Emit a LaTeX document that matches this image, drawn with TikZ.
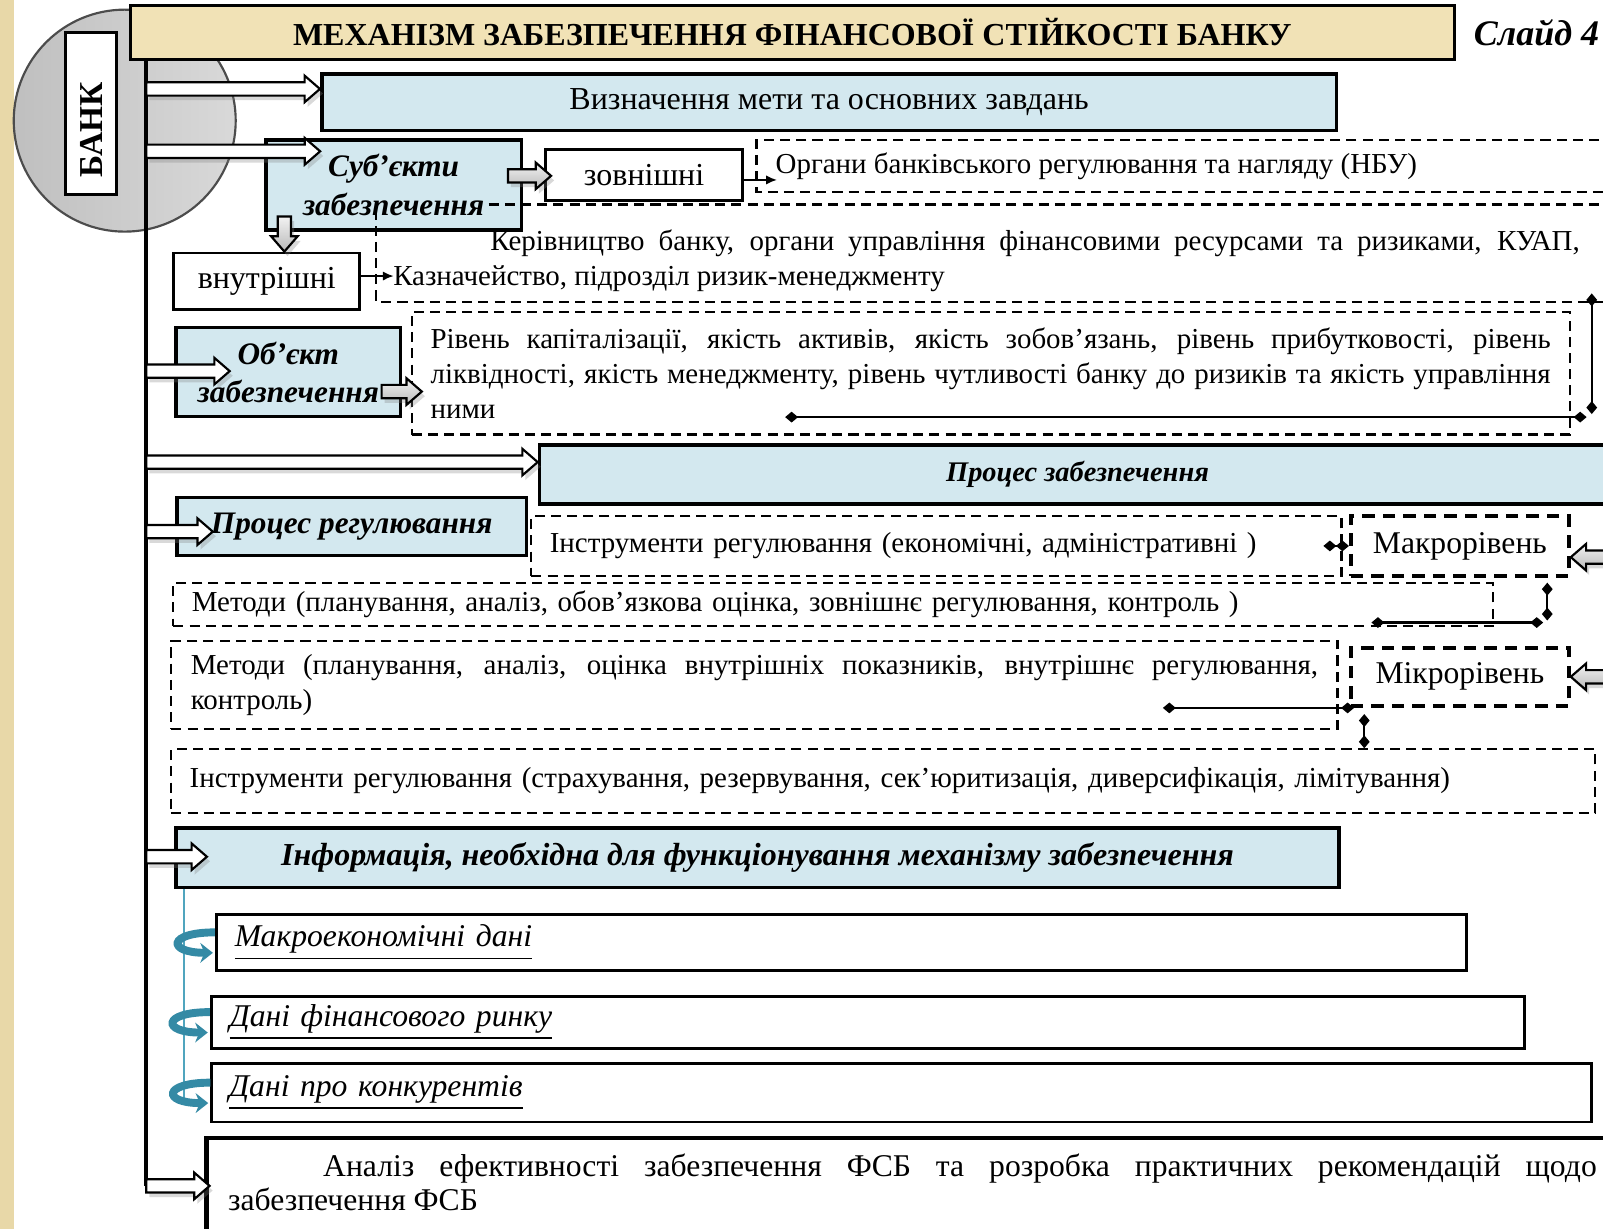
\documentclass[tikz,border=0pt]{standalone}
\usepackage{fontspec}
\setmainfont{Liberation Serif}
\usetikzlibrary{arrows.meta,calc,positioning,shadows}
\definecolor{boxblue}{RGB}{211,232,239}
\definecolor{titlebeige}{RGB}{241,226,182}
\definecolor{stripbeige}{RGB}{232,216,168}
\definecolor{curlteal}{RGB}{52,138,165}
\definecolor{spineteal}{RGB}{80,165,190}
\newcommand{\bodyfont}{\fontsize{8.05}{9.7}\selectfont}
\newcommand{\midfont}{\fontsize{8.9}{10}\selectfont}
\newcommand{\headfont}{\bfseries\itshape\fontsize{8.7}{11}\selectfont}
\newcommand{\lvlfont}{\fontsize{8.8}{10}\selectfont}
\newcommand{\datafont}{\itshape\fontsize{8.8}{10}\selectfont}
\newcommand{\anfont}{\fontsize{8.8}{9.4}\selectfont}
% fat block arrows: right, left, down
\newcommand{\fatR}[3][]{\path[fatarrow,#1] let \p1=(#2),\p2=(#3) in
  (\x1,\y1+0.065cm) -- (\x2-0.15cm,\y1+0.065cm) -- (\x2-0.15cm,\y1+0.13cm) -- (\x2,\y1)
  -- (\x2-0.15cm,\y1-0.13cm) -- (\x2-0.15cm,\y1-0.065cm) -- (\x1,\y1-0.065cm) -- cycle;}
\newcommand{\fatL}[3][]{\path[fatarrow,#1] let \p1=(#2),\p2=(#3) in
  (\x1,\y1+0.065cm) -- (\x2+0.15cm,\y1+0.065cm) -- (\x2+0.15cm,\y1+0.13cm) -- (\x2,\y1)
  -- (\x2+0.15cm,\y1-0.13cm) -- (\x2+0.15cm,\y1-0.065cm) -- (\x1,\y1-0.065cm) -- cycle;}
\newcommand{\fatD}[3][]{\path[fatarrow,#1] let \p1=(#2),\p2=(#3) in
  (\x1-0.065cm,\y1) -- (\x1-0.065cm,\y2+0.15cm) -- (\x1-0.13cm,\y2+0.15cm) -- (\x1,\y2)
  -- (\x1+0.13cm,\y2+0.15cm) -- (\x1+0.065cm,\y2+0.15cm) -- (\x1+0.065cm,\y1) -- cycle;}

\begin{document}
\begin{tikzpicture}[x=0.01cm,y=-0.01cm,>=Latex,
  bluebox/.style={draw,line width=1pt,fill=boxblue,align=center,inner sep=0pt},
  plainbox/.style={draw,line width=0.8pt,fill=white,inner sep=0pt},
  dashbox/.style={draw,line width=0.6pt,dash pattern=on 2.8pt off 1.7pt,inner sep=0pt},
  levelbox/.style={draw,line width=1.1pt,dash pattern=on 3.4pt off 2.3pt,inner sep=0pt,font=\lvlfont},
  dashline/.style={line width=0.6pt,dash pattern=on 2.8pt off 1.7pt},
  dia/.style={line width=0.6pt,{Diamond[length=3.6pt,width=3pt]}-{Diamond[length=3.6pt,width=3pt]}},
  tiparrow/.style={line width=0.5pt,-{Latex[length=3pt,width=2.6pt]}},
  fatarrow/.style={draw,line width=0.6pt,drop shadow={opacity=0.3,shadow xshift=0.03cm,shadow yshift=-0.045cm}},
  whitebar/.style={fill=white},
  graybar/.style={top color=gray!10,bottom color=gray!55},
  curl/.style={curlteal,line width=2.2pt,-{Stealth[length=3.5pt,width=5.5pt]}}]
  \useasboundingbox (0,0) rectangle (1568,1202);
  \fill[stripbeige] (0,0) rectangle (14,1202);
  % bank circle and title
  \node[circle,draw=gray!60!black,line width=0.6pt,left color=gray!50,right color=gray!30,minimum size=2.17cm] (bankc) at (122,118) {};
  \node[draw,line width=0.8pt,fill=white,rotate=90,minimum width=1.58cm,minimum height=0.5cm,inner sep=0pt,font=\bfseries\fontsize{9.3}{10}\selectfont] (bank) at (89,111) {БАНК\kern0.32cm};
  \node[draw,line width=0.8pt,fill=titlebeige,minimum width=12.94cm,minimum height=0.53cm,inner sep=0pt,font=\bfseries\fontsize{8.9}{10}\selectfont] (title) at (775,31.5) {МЕХАНІЗМ ЗАБЕЗПЕЧЕННЯ ФІНАНСОВОЇ СТІЙКОСТІ БАНКУ};
  \node[anchor=west,inner sep=0pt,font=\bfseries\itshape\fontsize{10}{11}\selectfont] (slide) at (1441,32) {Слайд 4};
  % spine
  \coordinate (sp1) at (143,87);
  \coordinate (sp2) at (143,148);
  \coordinate (sp3) at (143,363);
  \coordinate (sp4) at (143,452);
  \coordinate (sp5) at (143,520);
  \coordinate (sp6) at (143,838);
  \coordinate (sp7) at (143,1160);
  \draw[line width=1.2pt] (title.south -| sp1) -- (sp7);
  % aims and subjects
  \node[bluebox,minimum width=9.92cm,minimum height=0.55cm,font=\midfont] (vyz) at (811,100) {Визначення мети та основних завдань};
  \node[bluebox,minimum width=2.5cm,minimum height=0.88cm,font=\headfont] (subj) at (385,181) {Суб’єкти\\забезпечення};
  \node[plainbox,minimum width=1.93cm,minimum height=0.5cm,font=\midfont] (zovn) at (630,171) {зовнішні};
  \node[plainbox,minimum width=1.82cm,minimum height=0.55cm,font=\midfont] (vnutr) at (261,275) {внутрішні};
  \draw[dashline] (1580,137) -- (740,137) -- (740,188) -- (1580,188);
  \node[anchor=west,inner sep=0pt,font=\bodyfont] (organy) at (758,163) {Органи банківського регулювання та нагляду (НБУ)};
  \coordinate (orgin) at (760,176);
  \draw[tiparrow] (zovn.east |- orgin) -- (orgin);
  \draw[dashline] (478,200) -- (1580,200);
  \draw[dashline] (368,205) -- (368,295) -- (1580,295);
  \node[text width=11.6cm,align=justify,inner sep=0pt,font=\bodyfont] (kerivn) at (965,255) {\hspace*{0.95cm}Керівництво банку, органи управління фінансовими ресурсами та ризиками, КУАП,\linebreak Казначейство, підрозділ ризик-менеджменту};
  \coordinate (kaz) at (385,270);
  \draw[tiparrow] (vnutr.east |- kaz) -- (kaz);
  % object
  \node[bluebox,minimum width=2.19cm,minimum height=0.87cm,font=\bfseries\itshape\fontsize{8.7}{10.5}\selectfont] (obj) at (282,364) {Об’єкт\\забезпечення};
  \node[dashbox,minimum width=11.32cm,minimum height=1.2cm,text width=10.95cm,align=justify,font=\bodyfont] (riven) at (969,365) {Рівень капіталізації, якість активів, якість зобов’язань, рівень прибутковості, рівень\linebreak ліквідності, якість менеджменту, рівень чутливості банку до ризиків та якість управління\linebreak ними};
  \coordinate (rv1) at (1557,287);
  \coordinate (rv2) at (1557,405);
  \coordinate (rv3) at (1552,408);
  \coordinate (rv4) at (768,408);
  \draw[dia] (rv1) -- (rv2);
  \draw[dia] (rv3) -- (rv4);
  % process
  \node[bluebox,minimum width=10.52cm,minimum height=0.58cm,font=\bfseries\itshape\fontsize{7.9}{9}\selectfont] (proczab) at (1054,464) {Процес забезпечення};
  \node[bluebox,minimum width=3.42cm,minimum height=0.57cm,font=\headfont] (procreg) at (344,515) {Процес регулювання};
  \node[dashbox,minimum width=7.92cm,minimum height=0.58cm,text width=7.56cm,align=left,font=\bodyfont] (instr1) at (916,534) {Інструменти регулювання (економічні, адміністративні )};
  \node[levelbox,minimum width=2.13cm,minimum height=0.58cm] (makro) at (1428,534) {Макрорівень};
  \node[dashbox,minimum width=12.9cm,minimum height=0.42cm,text width=12.54cm,align=left,font=\bodyfont] (metod1) at (815,591) {\raisebox{-0.06cm}{Методи (планування, аналіз, обов’язкова оцінка, зовнішнє регулювання, контроль )}};
  \node[dashbox,minimum width=11.4cm,minimum height=0.86cm,text width=11.02cm,align=justify,font=\bodyfont] (metod2) at (738,670) {Методи (планування, аналіз, оцінка внутрішніх показників, внутрішнє регулювання,\linebreak контроль)};
  \node[levelbox,minimum width=2.13cm,minimum height=0.57cm] (mikro) at (1428,662) {Мікрорівень};
  \node[dashbox,minimum width=13.92cm,minimum height=0.62cm,text width=13.56cm,align=left,font=\bodyfont] (instr2) at (864,764) {Інструменти регулювання (страхування, резервування, сек’юритизація, диверсифікація, лімітування)};
  \draw[dia] ($(makro.west)+(-25,0)$) -- (makro.west);
  \draw[dia] ($(makro.south east)+(-23,5)$) -- ($(makro.south east)+(-23,42)$);
  \draw[dia] ($(makro.south east)+(-27,44)$) -- ($(makro.south east)+(-195,44)$);
  \draw[dia] ($(mikro.south west)+(-182,0)$) -- ($(mikro.south west)+(5,0)$);
  \coordinate (mk) at ($(mikro.south west)+(15,6)$);
  \draw[dia] (mk) -- (mk |- instr2.north);
  \coordinate (mkin) at (1580,545);
  \coordinate (mcin) at (1580,662);
  % information
  \node[bluebox,minimum width=11.37cm,minimum height=0.58cm,font=\bfseries\itshape\fontsize{8.9}{10}\selectfont] (info) at (741,839) {Інформація, необхідна для функціонування механізму забезпечення};
  \coordinate (tl) at (180,1077);
  \draw[spineteal,line width=0.8pt] (info.south -| tl) -- (tl);
  \node[plainbox,minimum width=12.22cm,minimum height=0.55cm,text width=11.86cm,align=left,font=\datafont] (d1) at (823,922) {\raisebox{-0.05cm}{\underline{Макроекономічні дані}}};
  \node[plainbox,minimum width=12.84cm,minimum height=0.51cm,text width=12.48cm,align=left,font=\datafont] (d2) at (849,1000) {\raisebox{-0.04cm}{\underline{Дані фінансового ринку}}};
  \node[plainbox,minimum width=13.49cm,minimum height=0.57cm,text width=13.15cm,align=left,font=\datafont] (d3) at (882,1069) {\raisebox{-0.04cm}{\underline{Дані про конкурентів}}};
  \foreach \d in {d1,d2,d3}
    \draw[curl] ($(\d.west)+(0,-10)$) .. controls ($(\d.west)+(-47,-10)$) and ($(\d.west)+(-47,10)$) .. ($(\d.west)+(-2,10)$);
  % analysis
  \node[plainbox,line width=1.2pt,anchor=north west,minimum width=13.8cm,minimum height=1.04cm,inner xsep=0.17cm,text width=13.38cm,text depth=0.5cm,align=justify,font=\anfont] (analiz) at (200,1111) {\hspace*{0.93cm}Аналіз ефективності забезпечення ФСБ та розробка практичних рекомендацій щодо\linebreak забезпечення ФСБ};
  % block arrows
  \fatR[whitebar]{sp1}{vyz.west}
  \fatR[whitebar]{sp2}{$(subj.west)+(55,0)$}
  \fatR[whitebar]{sp3}{$(obj.west)+(54,0)$}
  \fatR[whitebar]{sp4}{proczab.west}
  \fatR[whitebar]{sp5}{$(procreg.west)+(37,0)$}
  \fatR[whitebar]{sp6}{$(info.west)+(32,0)$}
  \fatR[whitebar]{sp7}{$(analiz.west)+(5,0)$}
  \fatR[graybar]{$(subj.east)+(-15,-9)$}{$(zovn.west)+(7,0)$}
  \fatD[graybar]{$(subj.south west)+(20,-15)$}{vnutr.north}
  \fatR[graybar]{$(obj.east)+(-20,19)$}{$(riven.west)+(11,0)$}
  \fatL[graybar]{mkin}{makro.east}
  \fatL[graybar]{mcin}{mikro.east}
\end{tikzpicture}
\end{document}
